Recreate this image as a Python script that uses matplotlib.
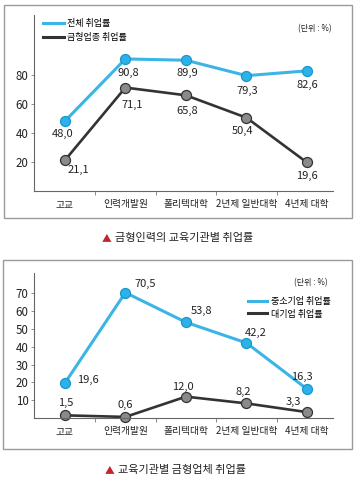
import matplotlib

matplotlib.use("Agg")
import matplotlib.pyplot as plt
from matplotlib.lines import Line2D
from matplotlib.patches import Rectangle

plt.rcParams["font.family"] = ["Noto Sans CJK KR", "DejaVu Sans"]

# 데이터
institutions = ["고교", "인력개발원", "폴리텍대학", "2년제 일반대학", "4년제 대학"]
total_rate = [48.0, 90.8, 89.9, 79.3, 82.6]
mold_rate = [21.1, 71.1, 65.8, 50.4, 19.6]
sme_rate = [19.6, 70.5, 53.8, 42.2, 16.3]
large_rate = [1.5, 0.6, 12.0, 8.2, 3.3]

# 라벨 위치 오프셋 (픽셀)
total_off = [(-2, -13), (3, -14), (1, -13), (1, -15), (0, -14)]
mold_off = [(13, -10), (7, -17), (1, -16), (-4, -13), (0, -13)]
sme_off = [(23, 3), (20, 9), (16, 11), (9, 10), (-5, 12)]
large_off = [(1, 12), (0, 12), (-3, 10), (-3, 11), (-14, 10)]

BLUE = "#3cb4e6"
BLUE_FILL = "#2ab3ea"
BLUE_EDGE = "#1e96c8"
DARK = "#333333"
GRAY_FILL = "#8a8a8a"

W, H = 356, 486
fig = plt.figure(figsize=(W / 100, H / 100), dpi=100)


def px_rect(x0, y0, x1, y1):
    return [x0 / W, 1 - y1 / H, (x1 - x0) / W, (y1 - y0) / H]


def _style_axes(ax, ymax, yticks):
    x = range(len(institutions))
    ax.set_xlim(-0.51, 4.43)
    ax.set_ylim(0, ymax)
    ax.set_yticks(yticks)
    ax.set_xticks(list(x))
    ax.set_xticklabels(institutions)
    ax.set_xticks([0.5, 1.5, 2.5, 3.5], minor=True)
    ax.tick_params(axis="x", which="major", length=0, pad=6, labelsize=7, colors="#222222")
    ax.tick_params(axis="x", which="minor", length=3, width=0.6, color="#777777")
    ax.tick_params(axis="y", length=2, width=0.6, pad=2, labelsize=8.3, colors="#222222",
                   color="#777777")
    for s in ("top", "right"):
        ax.spines[s].set_visible(False)
    for s in ("left", "bottom"):
        ax.spines[s].set_color("#666666")
        ax.spines[s].set_linewidth(0.8)
    ax.patch.set_alpha(0)


def _series(ax, values, color, lw, fill, edge, offsets, zorder):
    x = list(range(len(values)))
    ax.plot(x, values, color=color, linewidth=lw, marker="o", markersize=7.2,
            markerfacecolor=fill, markeredgecolor=edge, markeredgewidth=0.9,
            zorder=zorder, clip_on=False)
    for xi, v, (dx, dy) in zip(x, values, offsets):
        ax.annotate(f"{v:.1f}".replace(".", ","), (xi, v), xytext=(dx * 0.72, dy * 0.72),
                    textcoords="offset points", ha="center", va="center",
                    fontsize=8, color="#222222")


# 패널 테두리
fig.add_artist(Rectangle((4 / W, 1 - 218 / H), 348 / W, 213 / H, transform=fig.transFigure,
                         fill=False, edgecolor="#9a9a9a", linewidth=1))
fig.add_artist(Rectangle((3 / W, 1 - 449 / H), 349 / W, 189 / H, transform=fig.transFigure,
                         fill=False, edgecolor="#9a9a9a", linewidth=1))

# 위 차트: 금형인력의 교육기관별 취업률
ax1 = fig.add_axes(px_rect(34, 15, 333, 191))
_style_axes(ax1, 121, [20, 40, 60, 80])
_series(ax1, total_rate, BLUE, 2.2, BLUE_FILL, BLUE_EDGE, total_off, 3)
_series(ax1, mold_rate, DARK, 1.9, GRAY_FILL, DARK, mold_off, 2)
h1 = [Line2D([], [], color=BLUE, lw=2.2), Line2D([], [], color=DARK, lw=2.2)]
ax1.legend(h1, ["전체 취업률", "금형업종 취업률"], loc="upper left",
           bbox_to_anchor=(43 / W, 1 - 19 / H), bbox_transform=fig.transFigure,
           frameon=False, fontsize=6.5, handlelength=2.3, handletextpad=0.4,
           labelspacing=0.55, borderpad=0, borderaxespad=0)
fig.text(315 / W, 1 - 29 / H, "(단위 : %)", ha="center", va="center", fontsize=5.8,
         color="#222222")

# 아래 차트: 교육기관별 금형업체 취업률
ax2 = fig.add_axes(px_rect(34, 273, 333, 418))
_style_axes(ax2, 81.5, [10, 20, 30, 40, 50, 60, 70])
_series(ax2, sme_rate, BLUE, 2.2, BLUE_FILL, BLUE_EDGE, sme_off, 3)
_series(ax2, large_rate, DARK, 1.9, GRAY_FILL, DARK, large_off, 2)
h2 = [Line2D([], [], color=BLUE, lw=2.2), Line2D([], [], color=DARK, lw=2.2)]
ax2.legend(h2, ["중소기업 취업률", "대기업 취업률"], loc="upper left",
           bbox_to_anchor=(248 / W, 1 - 297 / H), bbox_transform=fig.transFigure,
           frameon=False, fontsize=6.5, handlelength=2.1, handletextpad=0.4,
           labelspacing=0.4, borderpad=0, borderaxespad=0)
fig.text(311 / W, 1 - 283 / H, "(단위 : %)", ha="center", va="center", fontsize=5.8,
         color="#222222")

# 캡션
fig.text(107 / W, 1 - 238 / H, "▲", ha="center", va="center", fontsize=7, color="#c0272d")
fig.text(115 / W, 1 - 238 / H, "금형인력의 교육기관별 취업률", ha="left", va="center",
         fontsize=8, color="#222222")
fig.text(110 / W, 1 - 470 / H, "▲", ha="center", va="center", fontsize=7, color="#c0272d")
fig.text(118 / W, 1 - 470 / H, "교육기관별 금형업체 취업률", ha="left", va="center",
         fontsize=8, color="#222222")

fig.savefig("out.png", dpi=100)
